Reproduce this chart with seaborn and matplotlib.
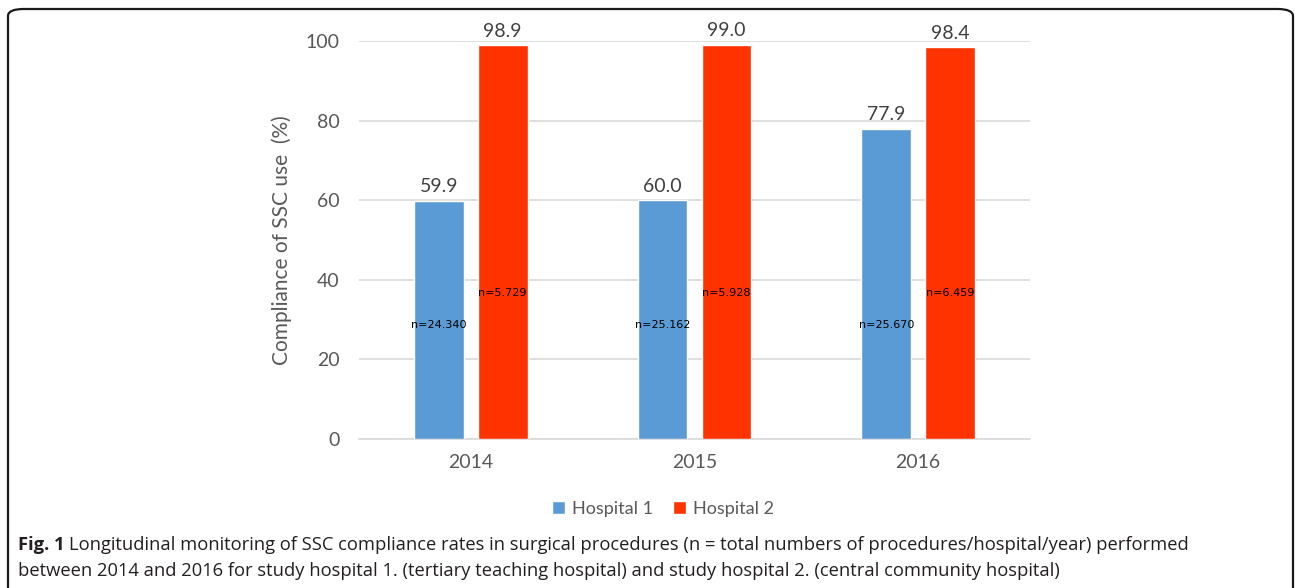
"""
SSC compliance per hospital and year, grouped bar chart
"""

import pandas as pd
import matplotlib.pyplot as plt
import seaborn as sns
from matplotlib.patches import FancyBboxPatch

years = ['2014', '2015', '2016']
hospitals = ['Hospital 1', 'Hospital 2']
hosp1 = [59.9, 60.0, 77.9]
hosp2 = [98.9, 99.0, 98.4]
n_hosp1 = ['n=24.340', 'n=25.162', 'n=25.670']
n_hosp2 = ['n=5.729', 'n=5.928', 'n=6.459']
# heights where the n labels sit inside the bars
n_pos1 = [28.6, 28.6, 28.6]
n_pos2 = [36.7, 36.7, 36.7]

colors = ['#5B9BD5', '#FF3300']
grey = '#595959'

df = pd.DataFrame({
    'year': years * 2,
    'hospital': [hospitals[0]] * 3 + [hospitals[1]] * 3,
    'value': hosp1 + hosp2,
})

sns.set_style('white')
plt.rcParams['font.family'] = ['Lato', 'DejaVu Sans']

fig = plt.figure(figsize=(12.95, 5.88), dpi=100)
ax = fig.add_axes([0.2772, 0.2534, 0.5182, 0.677])

sns.barplot(data=df, x='year', y='value', hue='hospital', order=years,
            hue_order=hospitals, palette=colors, width=0.57, gap=0.22,
            saturation=1, ax=ax, legend=True, zorder=3)

# value labels on top, n labels inside
for cont, labels, ypos in zip(ax.containers, [n_hosp1, n_hosp2], [n_pos1, n_pos2]):
    ax.bar_label(cont, fmt='%.1f', padding=4, fontsize=14, color='#404040')
    for bar, lab, yp in zip(cont, labels, ypos):
        ax.text(bar.get_x() + bar.get_width() / 2, yp, lab, ha='center',
                va='center', fontsize=8, color='black',
                family=['DejaVu Sans'], zorder=4)

ax.set_ylim(0, 100)
ax.set_xlim(-0.5, 2.5)
ax.set_yticks([0, 20, 40, 60, 80, 100])
ax.yaxis.grid(True, color='#D9D9D9', linewidth=1.2, zorder=0)
ax.set_axisbelow(True)
for s in ['left', 'right', 'top']:
    ax.spines[s].set_visible(False)
ax.spines['bottom'].set_color('#D9D9D9')
ax.spines['bottom'].set_linewidth(1.2)
ax.tick_params(axis='both', length=0, labelsize=14, labelcolor=grey)
ax.tick_params(axis='y', pad=14)
ax.tick_params(axis='x', pad=11)
ax.set_xlabel('')
ax.set_ylabel('Compliance of SSC use  (%)', fontsize=15, color=grey, labelpad=10)

ax.legend(loc='upper center', bbox_to_anchor=(0.453, -0.115), ncol=2,
          frameon=False, fontsize=13, labelcolor=grey, handlelength=0.7,
          handleheight=0.7, handletextpad=0.4, columnspacing=1.1)

# caption
cap_font = ['Open Sans', 'DejaVu Sans']
cap_size = 13.2
fig_lbl = fig.text(0.014, 1 - 545 / 588, 'Fig. 1', fontsize=cap_size,
                   fontweight='bold', va='center', family=cap_font,
                   color='#231F20')
ax.annotate('Longitudinal monitoring of SSC compliance rates in surgical procedures '
            '(n = total numbers of procedures/hospital/year) performed',
            xy=(1, 0.5), xycoords=fig_lbl, xytext=(3, 0),
            textcoords='offset points', fontsize=cap_size, va='center',
            family=cap_font, color='#231F20', annotation_clip=False)
fig.text(0.014, 1 - 571 / 588,
         'between 2014 and 2016 for study hospital 1. (tertiary teaching hospital) '
         'and study hospital 2. (central community hospital)',
         fontsize=cap_size, va='center', family=cap_font, color='#231F20')

# rounded frame around the figure
box = FancyBboxPatch((8 / 1295, -0.05), (1293 - 8) / 1295, 1.05 - 9 / 588,
                     boxstyle='round,pad=0,rounding_size=0.012',
                     transform=fig.transFigure, fill=False,
                     edgecolor='#1a1a1a', linewidth=1.6, clip_on=False)
fig.patches.append(box)

plt.savefig('out.png', dpi=100)
